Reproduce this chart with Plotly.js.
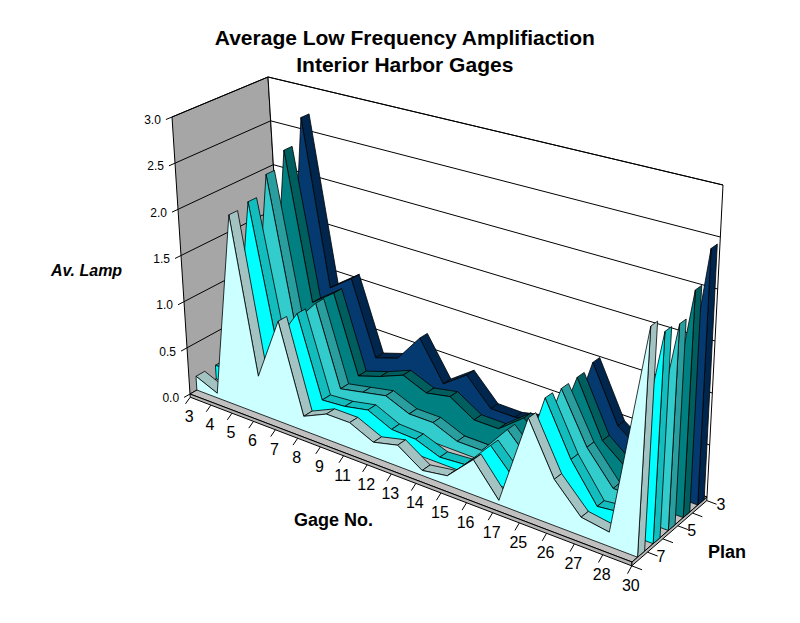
<!DOCTYPE html>
<html>
<head>
<meta charset="utf-8">
<script src="https://cdn.plot.ly/plotly-3.0.1.min.js"></script>
<style>
  html, body { margin: 0; padding: 0; background: #fff; }
  #chart { width: 800px; height: 623px; }
</style>
</head>
<body>
<div id="chart"></div>
<script>
// gage numbers along the category axis
var gages = ['3', '4', '5', '6', '7', '8', '9', '11', '12', '13', '14', '15', '16', '17', '25', '26', '27', '28', '30']

// average Lamp per plan
var plan3 = [0.20, 0.20, 2.72, 0.90, 1.08, 0.30, 0.38, 0.68, 0.28, 0.46, 0.20, 0.20, 0.26, 0.15, 1.02, 0.48, 0.30, 0.20, 2.45]
var plan4 = [0.20, 0.20, 2.45, 0.85, 1.03, 0.22, 0.30, 0.40, 0.30, 0.35, 0.20, 0.20, 0.40, 0.20, 0.98, 0.45, 0.25, 0.20, 2.15]
var plan5 = [0.15, 0.20, 2.28, 0.75, 1.03, 0.20, 0.25, 0.30, 0.20, 0.20, 0.10, 0.10, 0.40, 0.15, 0.98, 0.50, 0.20, 0.20, 1.93]
var plan6 = [0.15, 0.15, 2.08, 0.65, 1.03, 0.20, 0.22, 0.27, 0.16, 0.15, 0.06, 0.08, 0.36, 0.10, 1.00, 0.50, 0.15, 0.18, 1.96]
var plan7 = [0.15, 0.05, 2.04, 0.40, 1.06, 0.15, 0.26, 0.26, 0.15, 0.21, 0.05, 0.09, 0.34, 0.04, 0.92, 0.43, 0.17, 0.13, 2.11]

// back row first
var plans = ['3', '4', '5', '6', '7']
var planData = [plan3, plan4, plan5, plan6, plan7]
var faceColors = ['#053a70', '#008080', '#33CCCC', '#00FFFF', '#CCFFFF']
var sideColors = ['#00264d', '#005e5e', '#2a9e9e', '#14bdbd', '#a3c2c2']

var zTicks = [0, 0.5, 1, 1.5, 2, 2.5, 3]
var depthLabels = ['3', '5', '7']

// --- 3D box -> page projection (box corners as seen in the picture) ---
var N = gages.length
var SLOTS = plans.length
var ZMAX = 3
var corners = [
    [190, 394], [172, 117],   // front-left  bottom / top
    [284, 340], [268, 77],    // back-left
    [632, 562], [651, 232],   // front-right
    [707, 497], [723, 185]    // back-right
]
function proj(c, d, z) {
    var u = c / (N - 1), v = d / SLOTS, t = z / ZMAX
    var sx = 0, sy = 0, sw = 0
    for (var i = 0; i < 8; i++) {
        var ui = (i >> 2) & 1, vi = (i >> 1) & 1, ti = i & 1
        var b = (ui ? u : 1 - u) * (vi ? v : 1 - v) * (ti ? t : 1 - t)
        var w = 1.196 - 0.196 * ui + 0.06 * vi
        sx += b * w * corners[i][0]
        sy += b * w * corners[i][1]
        sw += b * w
    }
    return [sx / sw, sy / sw]
}

var traces = []
function poly(pts, fill, lw) {
    var p = pts.map(function (q) { return proj(q[0], q[1], q[2]) })
    p.push(p[0])
    traces.push({
        type: 'scatter', mode: 'lines', fill: 'toself', fillcolor: fill,
        x: p.map(function (q) { return q[0] }), y: p.map(function (q) { return q[1] }),
        line: {color: '#000', width: lw === undefined ? 0.8 : lw},
        hoverinfo: 'skip', showlegend: false
    })
}
function lines(segs, lw) {
    var x = [], y = []
    segs.forEach(function (s) {
        s.forEach(function (q) { var p = proj(q[0], q[1], q[2]); x.push(p[0]); y.push(p[1]) })
        x.push(null); y.push(null)
    })
    traces.push({
        type: 'scatter', mode: 'lines', x: x, y: y,
        line: {color: '#000', width: lw || 1}, hoverinfo: 'skip', showlegend: false
    })
}
function area2(pts) {
    var a = 0
    for (var i = 0; i < pts.length; i++) {
        var p = pts[i], q = pts[(i + 1) % pts.length]
        a += p[0] * q[1] - q[0] * p[1]
    }
    return a
}

// walls and floor
var L = N - 1, drop = 0.035
poly([[0, 0, 0], [0, 0, ZMAX], [0, SLOTS, ZMAX], [0, SLOTS, 0]], '#a6a6a6', 1)
poly([[0, SLOTS, 0], [0, SLOTS, ZMAX], [L, SLOTS, ZMAX], [L, SLOTS, 0]], '#ffffff', 1)
poly([[0, 0, 0], [L, 0, 0], [L, SLOTS, 0], [0, SLOTS, 0]], '#c0c0c0', 1)
poly([[0, 0, 0], [L, 0, 0], [L, 0, -drop], [0, 0, -drop]], '#b4b4b4', 1)
poly([[L, 0, 0], [L, SLOTS, 0], [L, SLOTS, -drop], [L, 0, -drop]], '#b4b4b4', 1)

// gridlines on the two walls
lines(zTicks.slice(1).map(function (z) { return [[0, 0, z], [0, SLOTS, z], [L, SLOTS, z]] }), 1)

// series slabs, back to front
var refSign = Math.sign(area2([[0, 0], [1, 0], [1, 1], [0, 1]].map(function (q) { return proj(q[0], q[1], 0) })))
for (var s = 0; s < plans.length; s++) {
    var vals = planData[s]
    var slot = plans.length - 1 - s
    var d0 = slot + 0.35, d1 = slot + 0.8
    for (var c = 0; c < L; c++) {
        var q = [[c, d0, vals[c]], [c + 1, d0, vals[c + 1]], [c + 1, d1, vals[c + 1]], [c, d1, vals[c]]]
        var a = area2(q.map(function (p) { return proj(p[0], p[1], p[2]) }))
        if (Math.sign(a) === refSign && Math.abs(a) > 0.5) poly(q, sideColors[s])
    }
    poly([[L, d0, 0], [L, d0, vals[L]], [L, d1, vals[L]], [L, d1, 0]], sideColors[s])
    var front = vals.map(function (v, c) { return [c, d0, v] })
    front.push([L, d0, 0], [0, d0, 0])
    poly(front, faceColors[s])
}

// value axis ticks and labels
lines(zTicks.map(function (z) { return [[0, 0, z], [0, -0.3, z]] }), 1)
var zl = zTicks.map(function (z) { return proj(0, -0.45, z) })
traces.push({
    type: 'scatter', mode: 'text', x: zl.map(function (p) { return p[0] - 2 }), y: zl.map(function (p) { return p[1] }),
    text: zTicks.map(function (z) { return z.toFixed(1) }), textposition: 'middle left',
    textfont: {size: 12, color: '#000'}, hoverinfo: 'skip', showlegend: false
})

// category axis ticks and labels
lines(gages.map(function (g, c) { return [[c, 0, -drop], [c, -0.25, -drop - 0.04]] }), 1)
var cl = gages.map(function (g, c) { return proj(c, 0, -drop) })
traces.push({
    type: 'scatter', mode: 'text', x: cl.map(function (p) { return p[0] - 1 }), y: cl.map(function (p) { return p[1] + 21 }),
    text: gages, textposition: 'middle center',
    textfont: {size: 16, color: '#000'}, hoverinfo: 'skip', showlegend: false
})

// depth axis ticks and labels (plans 3, 5, 7)
var slotTicks = []
for (var k = 0; k <= SLOTS; k++) slotTicks.push([[L, k, -drop], [L + 0.35, k, -drop]])
lines(slotTicks, 1)
var dl = depthLabels.map(function (p) { return proj(L, plans.length - 1 - plans.indexOf(p) + 0.5, 0) })
traces.push({
    type: 'scatter', mode: 'text', x: dl.map(function (p) { return p[0] + 21 }), y: dl.map(function (p) { return p[1] + 3 }),
    text: depthLabels, textposition: 'middle center',
    textfont: {size: 16, color: '#000'}, hoverinfo: 'skip', showlegend: false
})

var layout = {
    width: 800, height: 623,
    margin: {l: 0, r: 0, t: 0, b: 0},
    paper_bgcolor: '#ffffff', plot_bgcolor: '#ffffff',
    showlegend: false,
    font: {family: 'Liberation Sans, Arial, sans-serif', color: '#000'},
    title: {
        text: '<b>Average Low Frequency Amplifiaction<br>Interior Harbor Gages</b>',
        font: {size: 21, family: 'Liberation Sans, Arial, sans-serif', color: '#000'},
        x: 0.506, xanchor: 'center', y: 0.928, yanchor: 'middle'
    },
    xaxis: {range: [0, 800], visible: false, fixedrange: true},
    yaxis: {range: [623, 0], visible: false, fixedrange: true},
    annotations: [
        {text: '<b><i>Av. Lamp</i></b>', x: 86, y: 270, xanchor: 'center', yanchor: 'middle', showarrow: false, font: {size: 16}},
        {text: '<b>Gage No.</b>', x: 333, y: 520, xanchor: 'center', yanchor: 'middle', showarrow: false, font: {size: 18}},
        {text: '<b>Plan</b>', x: 727, y: 552, xanchor: 'center', yanchor: 'middle', showarrow: false, font: {size: 18}}
    ]
}

Plotly.newPlot('chart', traces, layout, {displayModeBar: false, staticPlot: true})
</script>
</body>
</html>
